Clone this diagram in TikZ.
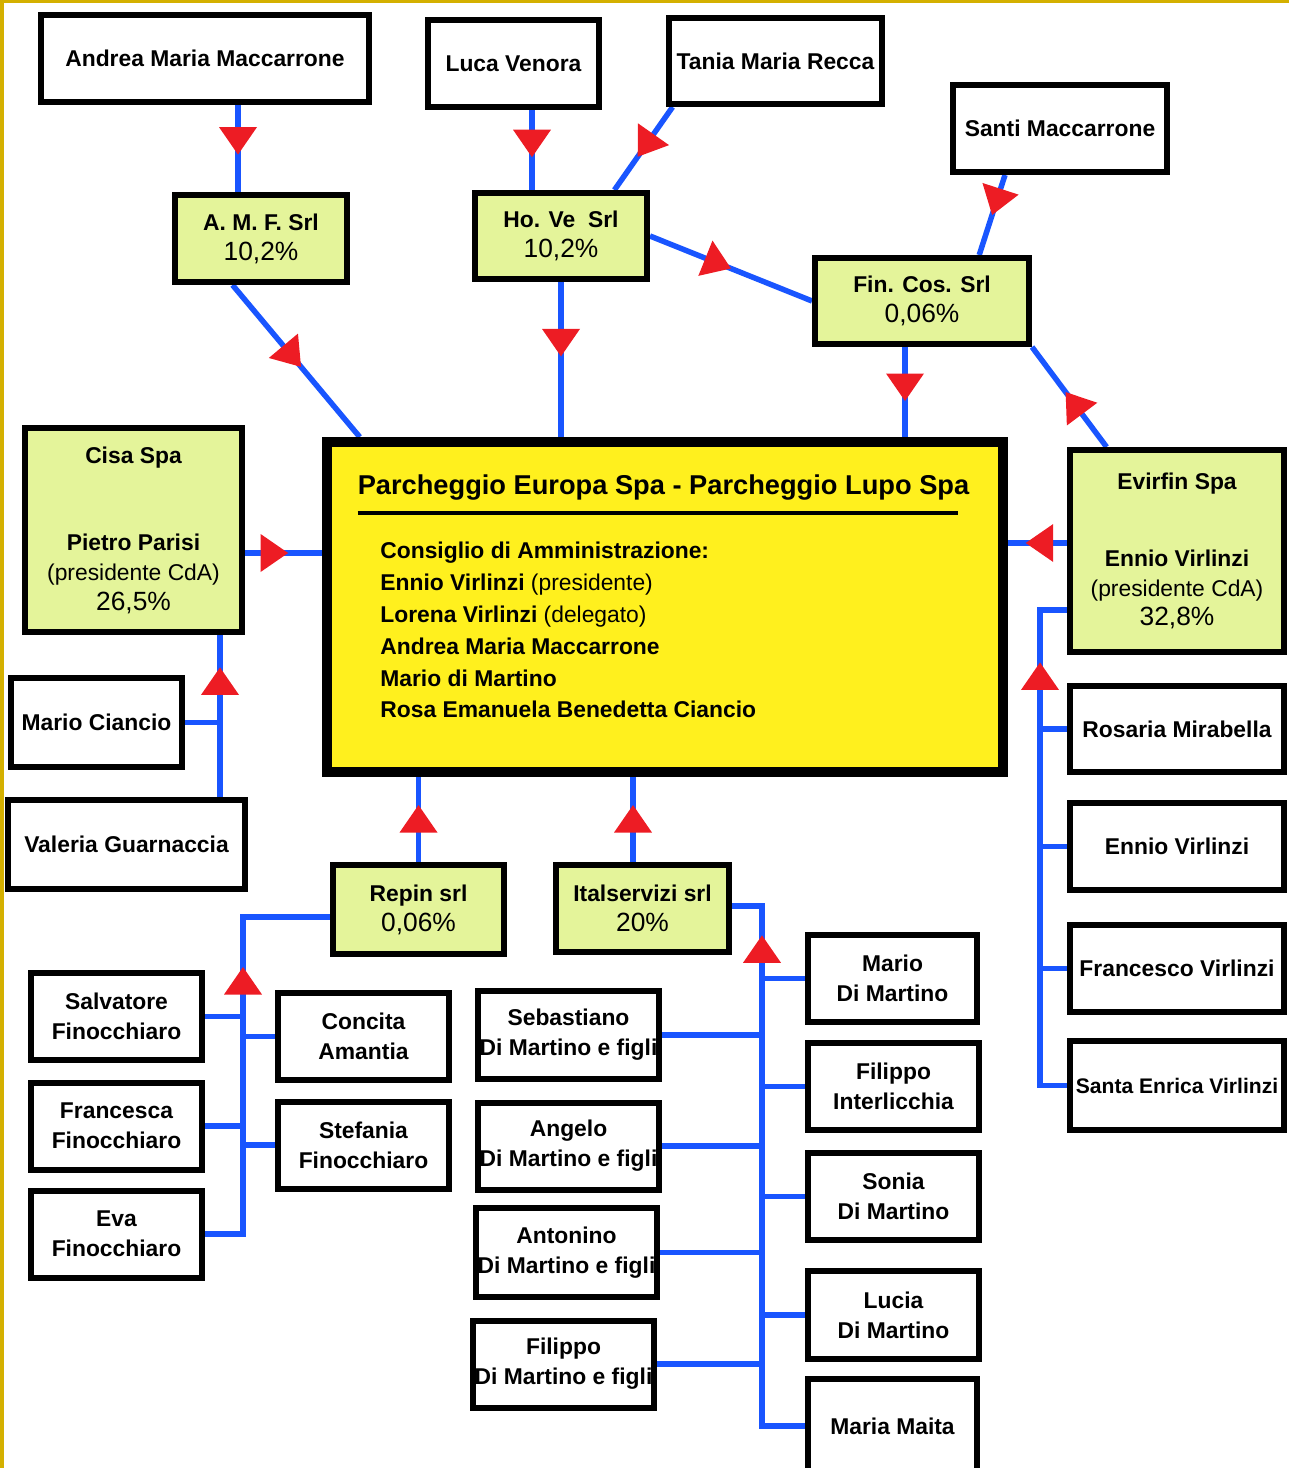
\documentclass[tikz,border=0pt]{standalone}
\usepackage{fontspec}
\setmainfont{Liberation Sans}
\usepackage{tikz}
\usetikzlibrary{arrows.meta,decorations.markings,calc,backgrounds}

\definecolor{firmgreen}{RGB}{228,244,154}
\definecolor{mainyellow}{RGB}{255,240,30}
\definecolor{linkblue}{RGB}{25,85,255}
\definecolor{tipred}{RGB}{237,28,36}
\definecolor{framegold}{RGB}{212,176,0}

\newcommand{\quota}[1]{{\mdseries\fontsize{15}{16}\selectfont #1}}

\begin{document}
\begin{tikzpicture}[
		font=\fontsize{13}{17}\selectfont\bfseries,
		person/.style={draw, rectangle, line width=0.12cm, fill=white, align=center, minimum width=3.42cm, minimum height=1.74cm, inner sep=0pt},
		firm/.style={person, fill=firmgreen},
		link/.style={draw=linkblue, line width=0.11cm},
		owns/.style={link, postaction={decorate}, decoration={markings, mark=at position #1 with {\arrow[line width=0pt]{Triangle[width=0.76cm, length=0.55cm, color=tipred]}}}}
	]
				\useasboundingbox (0,0) rectangle (25.78,-29.36);
				\fill[framegold] (0,0) rectangle (25.78,-0.07);
				\fill[framegold] (0,0) rectangle (0.09,-29.36);
				
				% owners on top
				\node (andrea) [person, minimum width=6.56cm] at (4.10,-1.17) {Andrea Maria Maccarrone};
				\node (luca) [person] at (10.27,-1.27) {Luca Venora};
				\node (tania) [person, minimum width=4.26cm, minimum height=1.72cm] at (15.51,-1.22) {Tania Maria Recca};
				\node (santi) [person, minimum width=4.28cm] at (21.20,-2.57) {Santi Maccarrone};
				
				% companies
				\node (amf) [firm, minimum width=3.44cm] at (5.22,-4.77) {A. M. F. Srl\\\quota{10,2\%}};
				\node (hove) [firm, minimum width=3.44cm, minimum height=1.72cm] at (11.22,-4.72) {Ho. Ve~ Srl\\\quota{10,2\%}};
				\node (fincos) [firm, minimum width=4.28cm, minimum height=1.72cm] at (18.44,-6.02) {Fin. Cos. Srl\\\quota{0,06\%}};
				\node (cisa) [firm, minimum width=4.34cm, minimum height=4.08cm] at (2.67,-10.60) {Cisa Spa\\[1.15cm]Pietro Parisi\\{\mdseries (presidente CdA)}\\\quota{26,5\%}};
				\node (evirfin) [firm, minimum width=4.28cm, minimum height=4.04cm] at (23.54,-11.02) {Evirfin Spa\\[0.94cm]Ennio Virlinzi\\{\mdseries (presidente CdA)}\\\quota{32,8\%}};
				\node (repin) [firm, minimum height=1.78cm] at (8.37,-18.19) {Repin srl\\\quota{0,06\%}};
				\node (ital) [firm, minimum width=3.46cm] at (12.85,-18.17) {Italservizi srl\\\quota{20\%}};
				
				% main company
				\node (main) [draw, rectangle, line width=0.2cm, fill=mainyellow, minimum width=13.52cm, minimum height=6.60cm] at (13.30,-12.14) {};
				\node (maintitle) [font=\fontsize{15.5}{18}\selectfont\bfseries] at (13.27,-9.76) {Parcheggio Europa Spa - Parcheggio Lupo Spa};
				\draw[line width=0.08cm] ([xshift=0.12cm, yshift=-0.12cm]maintitle.south west) -- ([xshift=-0.34cm, yshift=-0.12cm]maintitle.south east);
				\node (board) [anchor=north west, align=left, inner sep=0pt, font=\fontsize{13}{18.1}\selectfont\bfseries] at (7.60,-10.84) {Consiglio di Amministrazione:\\Ennio Virlinzi {\mdseries (presidente)}\\Lorena Virlinzi {\mdseries (delegato)}\\Andrea Maria Maccarrone\\Mario di Martino\\Rosa Emanuela Benedetta Ciancio};
				
				% left and right shareholders
				\node (ciancio) [person, minimum height=1.78cm] at (1.93,-14.45) {Mario Ciancio};
				\node (valeria) [person, minimum width=4.74cm, minimum height=1.78cm] at (2.53,-16.89) {Valeria Guarnaccia};
				\node (rosaria) [person, minimum width=4.28cm, minimum height=1.72cm] at (23.54,-14.58) {Rosaria Mirabella};
				\node (ennio) [person, minimum width=4.28cm] at (23.54,-16.93) {Ennio Virlinzi};
				\node (francesco) [person, minimum width=4.28cm] at (23.54,-19.37) {Francesco Virlinzi};
				\node (santa) [person, minimum width=4.28cm, minimum height=1.78cm, font=\fontsize{12}{17}\selectfont\bfseries] at (23.54,-21.71) {Santa Enrica Virlinzi};
				
				% bottom shareholders
				\node (salvatore) [person] at (2.33,-20.33) {Salvatore\\Finocchiaro};
				\node (francesca) [person] at (2.33,-22.52) {Francesca\\Finocchiaro};
				\node (eva) [person] at (2.33,-24.68) {Eva\\Finocchiaro};
				\node (concita) [person] at (7.27,-20.73) {Concita\\Amantia};
				\node (stefania) [person] at (7.27,-22.90) {Stefania\\Finocchiaro};
				\node (sebastiano) [person, minimum width=3.62cm, minimum height=1.76cm] at (11.37,-20.70) {Sebastiano\\Di Martino e figli};
				\node (angelo) [person, minimum width=3.62cm] at (11.37,-22.92) {Angelo\\Di Martino e figli};
				\node (antonino) [person, minimum width=3.62cm, minimum height=1.78cm] at (11.33,-25.05) {Antonino\\Di Martino e figli};
				\node (filippodm) [person, minimum width=3.62cm] at (11.27,-27.28) {Filippo\\Di Martino e figli};
				\node (mariodm) [person, minimum width=3.38cm] at (17.85,-19.57) {Mario\\Di Martino};
				\node (interlicchia) [person, minimum width=3.42cm] at (17.87,-21.73) {Filippo\\Interlicchia};
				\node (sonia) [person, minimum width=3.42cm] at (17.87,-23.93) {Sonia\\Di Martino};
				\node (lucia) [person, minimum width=3.42cm, minimum height=1.76cm] at (17.87,-26.30) {Lucia\\Di Martino};
				\node (maita) [person, minimum width=3.38cm, minimum height=1.88cm] at (17.85,-28.52) {Maria Maita};
				
				\coordinate (amfdrop) at (4.76,0);
				\coordinate (lucadrop) at (10.64,0);
				\coordinate (findrop) at (18.10,0);
				\coordinate (itdrop) at (12.66,0);
				\coordinate (cisalink) at (0,-11.06);
				\coordinate (evirlink) at (0,-10.86);
				\coordinate (ct) at (4.40,0);
				\coordinate (et) at (20.80,-12.20);
				\coordinate (rt) at (4.86,-18.34);
				\coordinate (it) at (15.24,-18.12);
				
				% Arrows
				\begin{scope}[on background layer]
				\draw[owns=0.57] (andrea.south -| amfdrop) -- (amf.north -| amfdrop);
				\draw[owns=0.59] (luca.south -| lucadrop) -- (hove.north -| lucadrop);
				\draw[owns=0.6] ($(tania.south west)!0.03!(tania.south east)$) -- ($(hove.north west)!0.8!(hove.north east)$);
				\draw[owns=0.5] ($(santi.south west)!0.25!(santi.south east)$) -- ($(fincos.north west)!0.76!(fincos.north east)$);
				\draw[owns=0.5] (hove.east) -- (fincos.west);
				\draw[owns=0.54] ($(amf.south west)!0.34!(amf.south east)$) -- ($(main.north west)!0.055!(main.north east)$);
				\draw[owns=0.48] (hove.south) -- (hove.south |- main.north);
				\draw[owns=0.6] (fincos.south -| findrop) -- (main.north -| findrop);
				\draw[owns=0.55] ($(evirfin.north west)!0.18!(evirfin.north east)$) -- (fincos.south east);
				\draw[owns=0.56] (cisa.east |- cisalink) -- (main.west |- cisalink);
				\draw[owns=0.7] (evirfin.west |- evirlink) -- (main.east |- evirlink);
				\draw[owns=0.67] (repin.north) -- (repin.north |- main.south);
				\draw[owns=0.67] (ital.north -| itdrop) -- (main.south -| itdrop);
				
				% shareholders of Cisa
				\draw[owns=0.8] (valeria.north -| ct) -- (cisa.south -| ct);
				\draw[link] (ciancio.east) -- (ciancio.east -| ct);
				
				% shareholders of Evirfin
				\draw[owns=0.85] (santa.west) -| (et) -- (et -| evirfin.west);
				\draw[link] (rosaria.west) -- (rosaria.west -| et);
				\draw[link] (ennio.west) -- (ennio.west -| et);
				\draw[link] (francesco.west) -- (francesco.west -| et);
				
				% shareholders of Repin
				\draw[owns=0.69] (eva.east) -| (rt) -- (rt -| repin.west);
				\draw[link] (salvatore.east) -- (salvatore.east -| rt);
				\draw[link] (francesca.east) -- (francesca.east -| rt);
				\draw[link] (concita.west) -- (concita.west -| rt);
				\draw[link] (stefania.west) -- (stefania.west -| rt);
				
				% shareholders of Italservizi
				\draw[owns=0.9] (maita.west) -| (it) -- (it -| ital.east);
				\draw[link] (mariodm.west) -- (mariodm.west -| it);
				\draw[link] (interlicchia.west) -- (interlicchia.west -| it);
				\draw[link] (sonia.west) -- (sonia.west -| it);
				\draw[link] (lucia.west) -- (lucia.west -| it);
				\draw[link] (sebastiano.east) -- (sebastiano.east -| it);
				\draw[link] (angelo.east) -- (angelo.east -| it);
				\draw[link] (antonino.east) -- (antonino.east -| it);
				\draw[link] (filippodm.east) -- (filippodm.east -| it);
				\end{scope}
\end{tikzpicture}
\end{document}
